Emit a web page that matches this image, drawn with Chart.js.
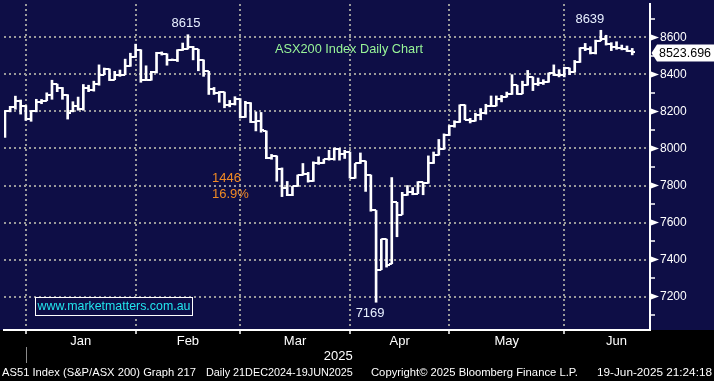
<!DOCTYPE html>
<html><head><meta charset="utf-8">
<script src="https://cdn.jsdelivr.net/npm/chart.js@4.4.1/dist/chart.umd.min.js"></script>
<style>html,body{margin:0;padding:0;background:#000;overflow:hidden}#wrap{width:714px;height:381px}</style>
</head><body><div id="wrap"><canvas id="c" width="714" height="381"></canvas></div>
<script>
// ---- DATA ----
const dates = [
 '2024-12-23','2024-12-24','2024-12-27','2024-12-30','2024-12-31',
 '2025-01-02','2025-01-03','2025-01-06','2025-01-07','2025-01-08','2025-01-09','2025-01-10','2025-01-13','2025-01-14','2025-01-15','2025-01-16','2025-01-17','2025-01-20','2025-01-21','2025-01-22','2025-01-23','2025-01-24','2025-01-28','2025-01-29','2025-01-30','2025-01-31',
 '2025-02-03','2025-02-04','2025-02-05','2025-02-06','2025-02-07','2025-02-10','2025-02-11','2025-02-12','2025-02-13','2025-02-14','2025-02-17','2025-02-18','2025-02-19','2025-02-20','2025-02-21','2025-02-24','2025-02-25','2025-02-26','2025-02-27','2025-02-28',
 '2025-03-03','2025-03-04','2025-03-05','2025-03-06','2025-03-07','2025-03-10','2025-03-11','2025-03-12','2025-03-13','2025-03-14','2025-03-17','2025-03-18','2025-03-19','2025-03-20','2025-03-21','2025-03-24','2025-03-25','2025-03-26','2025-03-27','2025-03-28','2025-03-31',
 '2025-04-01','2025-04-02','2025-04-03','2025-04-04','2025-04-07','2025-04-08','2025-04-09','2025-04-10','2025-04-11','2025-04-14','2025-04-15','2025-04-16','2025-04-17','2025-04-22','2025-04-23','2025-04-24','2025-04-28','2025-04-29','2025-04-30',
 '2025-05-01','2025-05-02','2025-05-05','2025-05-06','2025-05-07','2025-05-08','2025-05-09','2025-05-12','2025-05-13','2025-05-14','2025-05-15','2025-05-16','2025-05-19','2025-05-20','2025-05-21','2025-05-22','2025-05-23','2025-05-26','2025-05-27','2025-05-28','2025-05-29','2025-05-30',
 '2025-06-02','2025-06-03','2025-06-04','2025-06-05','2025-06-06','2025-06-10','2025-06-11','2025-06-12','2025-06-13','2025-06-16','2025-06-17','2025-06-18','2025-06-19'
];
const open = [8067,8201,8222,8256,8230, 8159,8201,8250,8259,8287,8346,8328,8290,8200,8227,8212,8328,8314,8346,8399,8428,8372,8399,8399,8444,8492,
 8532,8372,8372,8413,8518,8512,8479,8480,8532,8537,8550,8536,8479,8417,8323,8300,8305,8235,8240,8268,
 8172,8248,8145,8147,8095,7950,7960,7890,7786,7750,7795,7857,7860,7825,7919,7919,7942,7942,7999,7972,7981,
 7843,7919,7932,7857,7665,7345,7510,7377,7709,7643,7747,7763,7756,7818,7812,7919,7964,7995,8074,
 8124,8145,8236,8155,8150,8180,8191,8230,8230,8269,8278,8296,8342,8296,8342,8385,8346,8355,8358,8408,8399,8399,
 8435,8412,8465,8541,8536,8515,8582,8590,8563,8547,8541,8538,8529];
const high = [8205,8228,8283,8262,8232, 8205,8266,8265,8301,8369,8348,8330,8291,8253,8278,8346,8342,8364,8452,8435,8430,8417,8424,8483,8515,8564,
 8534,8447,8417,8520,8522,8512,8484,8534,8570,8615,8552,8536,8479,8417,8330,8308,8305,8260,8280,8270,
 8255,8248,8198,8195,8095,7968,7960,7895,7822,7795,7857,7919,7871,7928,7955,7942,7990,8003,8000,7990,7981,
 7919,7976,7932,7857,7665,7510,7510,7843,7709,7763,7800,7789,7821,7818,7960,7981,8049,8079,8124,
 8150,8236,8236,8163,8191,8216,8239,8284,8284,8287,8305,8399,8342,8364,8422,8387,8381,8372,8408,8452,8426,8440,
 8435,8476,8545,8568,8550,8586,8639,8612,8572,8577,8559,8554,8541];
const low = [8060,8198,8212,8186,8152, 8147,8198,8242,8258,8266,8307,8266,8159,8198,8207,8207,8307,8310,8342,8399,8367,8372,8390,8399,8444,8492,
 8358,8369,8369,8408,8505,8450,8476,8470,8530,8537,8479,8420,8390,8292,8292,8250,8220,8225,8235,8165,
 8168,8140,8095,8088,7945,7942,7823,7740,7745,7745,7795,7855,7818,7822,7914,7919,7937,7937,7937,7946,7840,
 7839,7919,7768,7661,7169,7345,7359,7377,7523,7643,7747,7750,7756,7750,7812,7919,7964,7995,8070,
 8115,8141,8155,8138,8148,8155,8186,8230,8230,8252,8278,8292,8292,8296,8342,8313,8340,8346,8358,8394,8387,8387,
 8399,8412,8465,8529,8511,8511,8582,8559,8529,8536,8533,8524,8506];
const close = [8201,8225,8256,8230,8159, 8201,8250,8259,8287,8346,8328,8290,8190,8227,8212,8328,8314,8346,8399,8428,8372,8399,8399,8444,8492,8532,
 8372,8372,8413,8518,8512,8479,8480,8532,8537,8550,8536,8479,8417,8323,8300,8305,8235,8240,8268,8172,
 8248,8145,8147,8100,7950,7960,7890,7786,7750,7795,7857,7860,7825,7919,7919,7942,7942,7999,7972,7981,7843,
 7919,7932,7857,7665,7345,7510,7368,7709,7643,7747,7763,7756,7818,7812,7919,7964,7995,8074,8124,
 8145,8236,8155,8150,8180,8191,8230,8230,8269,8278,8296,8342,8296,8342,8385,8346,8355,8358,8408,8399,8399,8435,
 8412,8465,8541,8536,8515,8582,8590,8563,8547,8541,8538,8529,8523.696];
const monthLabels = ['Jan','Feb','Mar','Apr','May','Jun'];
const yearLabel = '2025';
const yTicks = [7100,7200,7300,7400,7500,7600,7700,7800,7900,8000,8100,8200,8300,8400,8500,8600,8700];
const yMajor = [7200,7400,7600,7800,8000,8200,8400,8600];
const lastPrice = '8523.696';
const pctText = '16.9%';
const titleText = 'ASX200 Index Daily Chart';
const siteText = 'www.marketmatters.com.au';
const footer = ['AS51 Index (S&P/ASX 200) Graph 217','Daily 21DEC2024-19JUN2025','Copyright\u00A9 2025 Bloomberg Finance L.P.','19-Jun-2025 21:24:18'];
const JUN_TRADING_DAYS = 20;

// ---- derived ----
const FONT = '"Liberation Sans", Arial, Helvetica, sans-serif';
Chart.defaults.font.family = FONT;
const n = dates.length;
const idx = dates.map((d,i)=>i);
const boundaries = [];
for (let i=0;i<n-1;i++) if (dates[i].slice(5,7)!==dates[i+1].slice(5,7)) boundaries.push(i);
const ends = boundaries.concat([boundaries[boundaries.length-1]+JUN_TRADING_DAYS]);
const monthMid = ends.slice(1).map((e,i)=>(ends[i]+e)/2);
function argBest(arr,a,b,cmp){let k=a;for(let i=a;i<=b;i++) if(cmp(arr[i],arr[k])) k=i; return k;}
const split = dates.indexOf('2025-03-03');
const peak1 = argBest(high,0,split,(p,q)=>p>q);
const peak2 = argBest(high,split,n-1,(p,q)=>p>q);
const trough = argBest(low,0,n-1,(p,q)=>p<q);

const NAVY = '#0e0e46';
const GRID = '#9a9a9a';

function tickImg(left){const c=document.createElement('canvas');c.width=6;c.height=2;const g=c.getContext('2d');g.fillStyle='#ffffff';g.fillRect(left?0:3,0,3,2);return c;}
const openImg = tickImg(true), closeImg = tickImg(false);

function fitFont(ctx, text, target, base, minS, maxS){
  ctx.font = base+'px '+FONT; const w = ctx.measureText(text).width;
  let s = base*target/w; s = Math.max(minS, Math.min(maxS, s)); ctx.font = s.toFixed(2)+'px '+FONT; return s;
}

const bgPlugin = { id:'bg', beforeDraw(chart){ const c=chart.ctx; c.save(); c.fillStyle='#000'; c.fillRect(0,0,chart.width,chart.height); c.fillStyle=NAVY; c.fillRect(0,0,chart.width,chart.chartArea.bottom); c.restore(); } };

const overlay = { id:'overlay', afterDraw(chart){
  const ctx = chart.ctx, xs = chart.scales.x, ys = chart.scales.y, ca = chart.chartArea;
  ctx.save();
  // major tick markers on right axis
  ctx.fillStyle = '#fff';
  yMajor.forEach(v=>{ const py = ys.getPixelForValue(v); ctx.beginPath(); ctx.moveTo(ca.right+1, py-3); ctx.lineTo(ca.right+9, py); ctx.lineTo(ca.right+1, py+3); ctx.closePath(); ctx.fill(); });
  // year separator
  ctx.strokeStyle = '#8a8a8a'; ctx.lineWidth = 1;
  const bx = Math.round(xs.getPixelForValue(boundaries[0]))+0.5;
  ctx.beginPath(); ctx.moveTo(bx, 347); ctx.lineTo(bx, 363); ctx.stroke();
  // year label
  ctx.fillStyle = '#fff'; ctx.textBaseline = 'middle'; ctx.textAlign = 'center';
  ctx.font = '13px '+FONT;
  ctx.fillText(yearLabel, (bx + ca.right)/2, 356);
  // footer
  ctx.textAlign = 'left';
  const fx = [2, 206, 371, 597], fw = [194, 147, 207, 115];
  footer.forEach((t,i)=>{ fitFont(ctx, t, fw[i], 11, 10, 12.5); ctx.fillText(t, fx[i], 373); });
  // title
  ctx.fillStyle = '#98f598'; ctx.textAlign='center';
  fitFont(ctx, titleText, 148, 13, 11, 15);
  ctx.fillText(titleText, 349, 49);
  // high / low labels
  ctx.fillStyle = '#e8f0ff'; ctx.font = '13px '+FONT;
  ctx.fillText(String(high[peak1]), xs.getPixelForValue(peak1)-2, ys.getPixelForValue(high[peak1])-11);
  ctx.fillText(String(high[peak2]), xs.getPixelForValue(peak2)-11, ys.getPixelForValue(high[peak2])-11);
  ctx.fillText(String(low[trough]), xs.getPixelForValue(trough)-6, ys.getPixelForValue(low[trough])+11);
  // drop annotation
  ctx.fillStyle = '#f08a24'; ctx.textAlign='left';
  ctx.fillText(String(high[peak1]-low[trough]), 212, 178.5);
  ctx.fillText(pctText, 212, 194);
  // website box
  ctx.fillStyle = NAVY; ctx.fillRect(35.5, 297.5, 157, 18);
  ctx.strokeStyle = '#fff'; ctx.lineWidth = 1; ctx.strokeRect(35.5, 297.5, 157, 18);
  ctx.fillStyle = '#22e5ee'; ctx.textAlign='center';
  fitFont(ctx, siteText, 153, 12, 10, 14);
  ctx.fillText(siteText, 114, 307);
  // last price callout
  const py = ys.getPixelForValue(close[n-1]);
  const cy = py + 1.5;
  ctx.fillStyle = '#fff'; ctx.strokeStyle = '#bbb';
  ctx.beginPath(); ctx.moveTo(ca.right+1.5, cy); ctx.lineTo(ca.right+7, cy-8.5); ctx.lineTo(714, cy-8.5); ctx.lineTo(714, cy+8.5); ctx.lineTo(ca.right+7, cy+8.5); ctx.closePath(); ctx.fill();
  ctx.fillStyle = '#000'; ctx.textAlign='left';
  fitFont(ctx, lastPrice, 52, 12, 11, 13.5);
  ctx.fillText(lastPrice, 659, cy+0.5);
  ctx.restore();
}};

new Chart(document.getElementById('c'), {
  type: 'bar',
  data: { datasets: [
    { type:'bar', data: idx.map(i=>({x:i, y:[low[i], high[i]]})), backgroundColor:'#ffffff', borderWidth:0, barThickness:2, grouped:false },
    { type:'line', data: idx.map(i=>({x:i, y:open[i]})), showLine:false, pointStyle: openImg, pointRadius:3, pointHoverRadius:3 },
    { type:'line', data: idx.map(i=>({x:i, y:close[i]})), showLine:false, pointStyle: closeImg, pointRadius:3, pointHoverRadius:3 }
  ]},
  options: {
    responsive:false, devicePixelRatio:1, animation:false, events:[],
    layout:{ padding:0 },
    plugins:{ legend:{display:false}, tooltip:{enabled:false}, title:{display:false} },
    scales: {
      x: { type:'linear', position:'bottom', min:-0.18, max:123.4, offset:false,
        grid:{ offset:false, color:GRID, lineWidth:2, drawTicks:true, tickLength:4, tickColor:'#ffffff', tickWidth:1.5 },
        border:{ display:true, color:'#ffffff', width:2, dash:[2,3] },
        ticks:{ display:false },
        afterBuildTicks: s=>{ s.ticks = boundaries.map(v=>({value:v})); },
        afterFit: s=>{ s.height = 4; s.paddingLeft = 0; s.paddingRight = 0; }
      },
      x2: { type:'linear', position:'bottom', min:-0.18, max:123.4, offset:false,
        grid:{ display:false, drawTicks:false }, border:{ display:false },
        ticks:{ color:'#ffffff', font:{ size:13 }, padding:0, autoSkip:false, maxRotation:0, callback:(v,i)=>monthLabels[i] },
        afterBuildTicks: s=>{ s.ticks = monthMid.map(v=>({value:v})); },
        afterFit: s=>{ s.height = 47; s.paddingLeft = 0; s.paddingRight = 0; }
      },
      y: { type:'linear', position:'right', min:7019, max:8781,
        grid:{ color: c => yMajor.includes(c.tick.value) ? GRID : 'rgba(0,0,0,0)', lineWidth:2, drawTicks:true, tickLength:5,
               tickColor: c => yMajor.includes(c.tick.value) ? 'rgba(0,0,0,0)' : '#ffffff', tickWidth:1.5 },
        border:{ display:true, color:'#ffffff', width:2, dash:[2,3] },
        ticks:{ color:'#ffffff', font:{ size:12 }, padding:5, autoSkip:false, callback: v => yMajor.includes(v) ? String(v) : '' },
        afterBuildTicks: s=>{ s.ticks = yTicks.map(v=>({value:v})); },
        afterFit: s=>{ s.width = 64; s.paddingTop = 0; s.paddingBottom = 0; }
      }
    }
  },
  plugins:[bgPlugin, overlay]
});
</script></body></html>
